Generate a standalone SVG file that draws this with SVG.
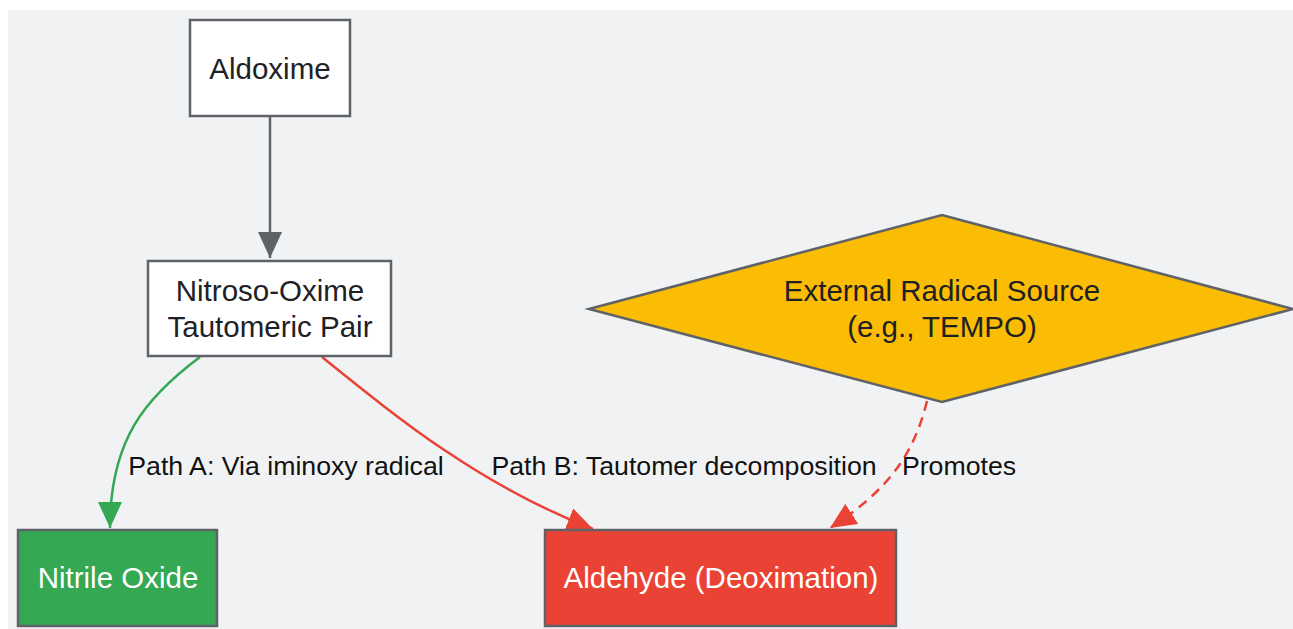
<svg xmlns="http://www.w3.org/2000/svg" width="1293" height="629" viewBox="0 0 1293 629">
<style>
.node{stroke:#5f6368;stroke-width:2.5}
.t{font-family:"Liberation Sans",Arial,sans-serif;font-size:29.5px;fill:#202124;text-anchor:middle}
.tw{fill:#ffffff}
.lbl{font-family:"Liberation Sans",Arial,sans-serif;font-size:26.7px;fill:#111111;text-anchor:middle}
.e{fill:none;stroke-width:2.5}
</style>
<defs>
<marker id="aGray" markerWidth="28" markerHeight="26" refX="26" refY="12" orient="auto" markerUnits="userSpaceOnUse"><path d="M0,0 L26,12 L0,24 Z" fill="#5f6368"/></marker>
<marker id="aGreen" markerWidth="28" markerHeight="26" refX="26" refY="12" orient="auto" markerUnits="userSpaceOnUse"><path d="M0,0 L26,12 L0,24 Z" fill="#34a853"/></marker>
<marker id="aRed" markerWidth="28" markerHeight="26" refX="26" refY="12" orient="auto" markerUnits="userSpaceOnUse"><path d="M0,0 L26,12 L0,24 Z" fill="#ea4335"/></marker>
</defs>
<rect x="0" y="0" width="1293" height="629" fill="#ffffff"/>
<rect x="8" y="10" width="1285" height="619" fill="#f1f2f4"/>
<g id="connectors">
<path class="e" d="M270,117 L270,258" stroke="#5f6368" marker-end="url(#aGray)"/>
<path class="e" d="M200,357 C145,398 110,440 110,528" stroke="#34a853" marker-end="url(#aGreen)"/>
<path class="e" d="M322,357 C400,420 480,485 593,529" stroke="#ea4335" marker-end="url(#aRed)"/>
<path class="e" d="M927,401 C915,450 892,488 830,528" stroke="#ea4335" stroke-dasharray="10,7" marker-end="url(#aRed)"/>
<text class="lbl" x="286" y="475">Path A: Via iminoxy radical</text>
<text class="lbl" x="684" y="475">Path B: Tautomer decomposition</text>
<text class="lbl" x="959" y="475">Promotes</text>
</g>
<g id="aldoxime">
<rect class="node" x="190" y="20" width="160" height="96" fill="#ffffff"/>
<text class="t" x="270" y="79">Aldoxime</text>
</g>
<g id="tautomer">
<rect class="node" x="148" y="261" width="243" height="95" fill="#ffffff"/>
<text class="t" x="270" y="301">Nitroso-Oxime</text>
<text class="t" x="270" y="337">Tautomeric Pair</text>
</g>
<g id="radical">
<polygon class="node" points="589,309 942,215 1293,309 942,402" fill="#fbbc04"/>
<text class="t" x="942" y="301">External Radical Source</text>
<text class="t" x="942" y="337">(e.g., TEMPO)</text>
</g>
<g id="nitrile">
<rect class="node" x="18" y="530" width="199" height="96" fill="#34a853"/>
<text class="t tw" x="118" y="588">Nitrile Oxide</text>
</g>
<g id="aldehyde">
<rect class="node" x="545" y="530" width="351" height="96" fill="#ea4335"/>
<text class="t tw" x="721" y="588">Aldehyde (Deoximation)</text>
</g>
</svg>
